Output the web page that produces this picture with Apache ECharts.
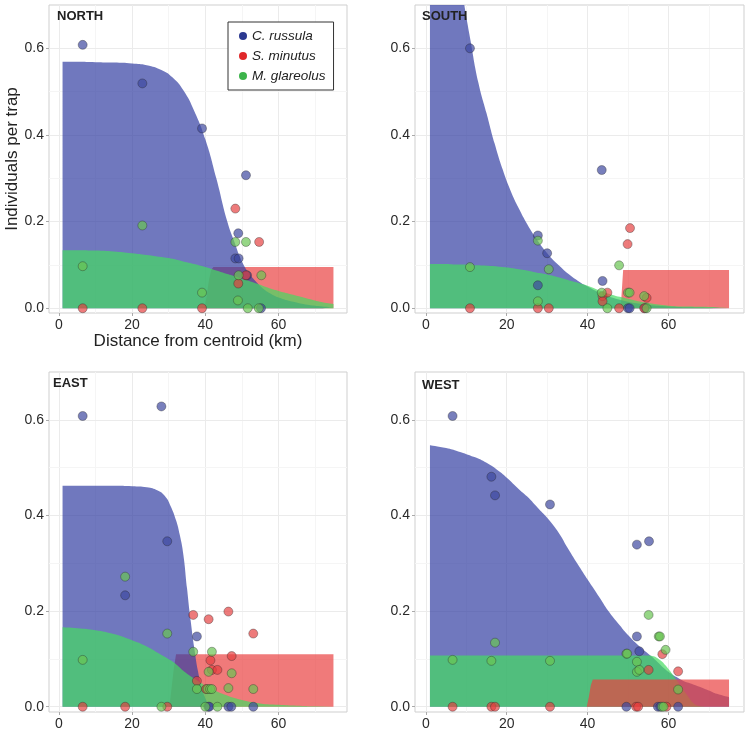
<!DOCTYPE html>
<html><head><meta charset="utf-8">
<script src="https://cdn.jsdelivr.net/npm/echarts@6/dist/echarts.min.js"></script>
<style>html,body{margin:0;padding:0;background:#fff}#c{width:750px;height:735px}</style>
</head><body><div id="c"></div>
<script>
// ---- tick labels ----
const xTicks = [0, 20, 40, 60];
const xMinor = [10, 30, 50, 70];
const yTicks = [0, 0.2, 0.4, 0.6];
const yMinor = [0.1, 0.3, 0.5];
const speciesNames = ['C. russula', 'S. minutus', 'M. glareolus'];
const panelTitles = ['NORTH', 'SOUTH', 'EAST', 'WEST'];

// ---- NORTH ----
const northX = [1,5,10,15,20,24,28,31,34,37,40,43,46,48,50,52,54,56,58,60,64,68,72,75];
const northBlue = [0.569,0.569,0.568,0.567,0.565,0.561,0.550,0.533,0.503,0.455,0.390,0.300,0.200,0.152,0.108,0.080,0.060,0.044,0.033,0.025,0.015,0.008,0.004,0.002];
const northGreen = [0.134,0.134,0.133,0.131,0.127,0.123,0.118,0.114,0.108,0.102,0.095,0.087,0.079,0.074,0.068,0.063,0.057,0.051,0.045,0.040,0.031,0.022,0.014,0.010];
const northRedX = [1,39.8,40.4,41,41.6,42.2,75];
const northRed = [0,0,0.03,0.065,0.088,0.095,0.095];
const northBluePts = [[6.5,0.608],[22.8,0.519],[39.1,0.415],[51.1,0.307],[49,0.173],[48.2,0.115],[49.1,0.115],[51.4,0.076],[55.2,0]];
const northRedPts = [[6.5,0],[22.8,0],[39.1,0],[48.2,0.230],[54.7,0.153],[49,0.057],[51.1,0.076]];
const northGreenPts = [[6.5,0.097],[22.8,0.191],[39.1,0.036],[48.2,0.153],[51.1,0.153],[49.1,0.076],[55.3,0.076],[48.9,0.018],[51.6,0],[54.6,0]];

// ---- SOUTH ----
const southX = [1,3,5,7,9,11,13,15,17,19,21,23,25,27,30,33,36,40,45,50,55,60,65,70,75];
const southBlue = [1.42,1.20,1.02,0.86,0.73,0.62,0.52,0.45,0.38,0.32,0.27,0.23,0.195,0.165,0.127,0.098,0.074,0.050,0.028,0.015,0.008,0.004,0.002,0.001,0.0005];
const southGreen = [0.102,0.102,0.102,0.101,0.101,0.100,0.099,0.098,0.097,0.095,0.093,0.090,0.087,0.083,0.078,0.071,0.063,0.052,0.034,0.022,0.012,0.006,0.004,0.003,0.002];
const southRedX = [1,48.2,48.5,48.8,75];
const southRed = [0,0,0.045,0.088,0.088];
const southBluePts = [[10.9,0.60],[27.7,0.168],[30,0.127],[27.7,0.053],[43.5,0.319],[43.7,0.063],[50,0],[50.4,0],[54.2,0]];
const southRedPts = [[10.9,0],[27.7,0],[30.4,0],[50.5,0.185],[49.9,0.148],[43.7,0.028],[43.7,0.016],[44.9,0.036],[47.8,0],[54.6,0.024],[54,0]];
const southGreenPts = [[10.9,0.095],[27.7,0.156],[30.4,0.090],[27.7,0.016],[47.8,0.099],[43.5,0.036],[50,0.036],[50.4,0.036],[54,0.028],[44.9,0],[54.6,0]];

// ---- EAST ----
const eastX = [1,5,10,15,20,24,27,29,30.5,32,33,34,35,36,37,38,39,40,41,42,45,50,55,60,65,70,75];
const eastBlue = [0.462,0.462,0.462,0.462,0.461,0.459,0.452,0.440,0.420,0.390,0.360,0.318,0.248,0.180,0.122,0.074,0.040,0.018,0.006,0.002,0,0,0,0,0,0,0];
const eastGreen = [0.166,0.164,0.160,0.152,0.139,0.126,0.113,0.104,0.097,0.089,0.082,0.075,0.069,0.064,0.059,0.054,0.049,0.044,0.040,0.036,0.026,0.014,0.007,0.004,0.002,0.001,0.001];
const eastRedX = [1,30.2,30.8,31.4,32,75];
const eastRed = [0,0,0.04,0.08,0.11,0.11];
const eastBluePts = [[6.5,0.608],[28,0.628],[29.6,0.346],[18.1,0.233],[37.7,0.147],[40.8,0],[41.1,0],[46.3,0],[47.1,0],[53.1,0]];
const eastRedPts = [[6.5,0],[18.1,0],[29.6,0],[36.7,0.192],[40.9,0.183],[46.3,0.199],[53.1,0.153],[41.4,0.097],[47.2,0.106],[41.8,0.077],[43.3,0.077],[37.7,0.054],[40.2,0.037]];
const eastGreenPts = [[6.5,0.098],[18.1,0.272],[29.6,0.153],[36.7,0.115],[41.8,0.115],[40.9,0.073],[47.2,0.070],[37.7,0.037],[40.6,0.037],[41.3,0.037],[41.8,0.037],[46.3,0.039],[53.1,0.037],[28,0],[40,0],[43.3,0]];

// ---- WEST ----
const westX = [1,5,8,12,15,18,20,23,25,28,30,33,35,38,40,43,45,48,50,53,55,56,57,58,59,60,61,62,63,64,65,66,67,68,70,72,75];
const westBlue = [0.547,0.541,0.534,0.522,0.510,0.493,0.479,0.455,0.440,0.413,0.395,0.362,0.333,0.292,0.266,0.228,0.202,0.170,0.150,0.125,0.111,0.104,0.096,0.088,0.080,0.073,0.067,0.062,0.057,0.053,0.050,0.047,0.044,0.041,0.034,0.027,0.020];
const westGreen = [0.107,0.107,0.107,0.107,0.107,0.107,0.107,0.107,0.107,0.107,0.107,0.107,0.107,0.107,0.107,0.107,0.107,0.107,0.107,0.107,0.107,0.106,0.103,0.097,0.089,0.079,0.068,0.056,0.044,0.032,0.020,0.009,0.003,0.001,0,0,0];
const westRedX = [1,39.8,40.3,40.8,41.3,75];
const westRed = [0,0,0.02,0.045,0.057,0.057];
const westBluePts = [[6.6,0.608],[16.2,0.481],[17.1,0.442],[30.7,0.423],[52.2,0.339],[55.2,0.346],[52.2,0.147],[52.8,0.116],[49.6,0],[57.4,0],[58,0],[62.4,0]];
const westRedPts = [[6.6,0],[16.2,0],[17.1,0],[30.7,0],[58.5,0.110],[55.1,0.077],[62.4,0.074],[52,0],[52.5,0],[59.5,0]];
const westGreenPts = [[6.6,0.098],[16.2,0.096],[17.1,0.134],[30.7,0.096],[55.1,0.192],[57.6,0.147],[57.9,0.147],[59.3,0.119],[49.6,0.111],[49.8,0.111],[52.2,0.094],[52.2,0.073],[52.8,0.077],[62.4,0.036],[58.4,0],[58.8,0]];

// ---- layout / style ----
const FONT = 'Liberation Sans, Arial, sans-serif';
const grids = [
  {left:49, top:5, width:298, height:308},
  {left:415, top:5, width:329, height:308},
  {left:49, top:372, width:298, height:340},
  {left:415, top:372, width:329, height:340}
];
const titlePos = [[57,10],[422,10],[53,377],[422,379]];
const areaColor = {blue:'rgb(51,62,162)', red:'rgb(234,65,65)', green:'rgb(69,220,97)'};
const areaOpacity = 0.7;
const ptColor = {blue:'rgba(62,72,160,0.88)', red:'rgba(228,62,62,0.85)', green:'rgba(105,196,82,0.88)'};
const legendColor = {blue:'#2b3990', red:'#e0282a', green:'#3cb44b'};

const panels = [
  {x:northX, blue:northBlue, green:northGreen, rx:northRedX, red:northRed, bp:northBluePts, rp:northRedPts, gp:northGreenPts, order:['red','blue','green']},
  {x:southX, blue:southBlue, green:southGreen, rx:southRedX, red:southRed, bp:southBluePts, rp:southRedPts, gp:southGreenPts, order:['red','blue','green']},
  {x:eastX, blue:eastBlue, green:eastGreen, rx:eastRedX, red:eastRed, bp:eastBluePts, rp:eastRedPts, gp:eastGreenPts, order:['red','blue','green']},
  {x:westX, blue:westBlue, green:westGreen, rx:westRedX, red:westRed, bp:westBluePts, rp:westRedPts, gp:westGreenPts, order:['blue','green','red']}
];

const zip = (xs, ys) => xs.map((v, i) => [v, ys[i]]);

const xAxes = [], yAxes = [], series = [], titles = [];
panels.forEach((p, i) => {
  const xa = {
    type:'value', gridIndex:i, min:-2.7, max:78.7,
    axisLine:{show:false, onZero:false},
    axisTick:{show:true, customValues:xTicks, length:3, lineStyle:{color:'#aaa'}},
    axisLabel:{customValues:xTicks, fontSize:14, color:'#2a2a2a', margin:5, fontFamily:FONT},
    splitLine:{show:false}
  };
  const ya = {
    type:'value', gridIndex:i, min:-0.011, max:0.7,
    axisLine:{show:false, onZero:false},
    axisTick:{show:true, customValues:yTicks, length:3, lineStyle:{color:'#aaa'}},
    axisLabel:{customValues:yTicks, fontSize:14, color:'#2a2a2a', margin:5, fontFamily:FONT, formatter:v => v.toFixed(1)},
    splitLine:{show:false}
  };
  if (i === 0) {
    xa.name = 'Distance from centroid (km)';
    xa.nameLocation = 'middle'; xa.nameGap = 18;
    xa.nameTextStyle = {fontSize:17, color:'#222', fontFamily:FONT};
    ya.name = 'Individuals per trap';
    ya.nameLocation = 'middle'; ya.nameGap = 28;
    ya.nameTextStyle = {fontSize:17, color:'#222', fontFamily:FONT};
  }
  xAxes.push(xa); yAxes.push(ya);
  titles.push({text:panelTitles[i], left:titlePos[i][0], top:titlePos[i][1], padding:0,
    textStyle:{fontSize:13, fontWeight:'bold', color:'#222', fontFamily:FONT}});

  // grid lines (underneath everything)
  const gl = [];
  xTicks.forEach(v => gl.push({xAxis:v, lineStyle:{color:'#ebebeb'}}));
  xMinor.forEach(v => gl.push({xAxis:v, lineStyle:{color:'#f5f5f5'}}));
  yTicks.forEach(v => gl.push({yAxis:v, lineStyle:{color:'#ebebeb'}}));
  yMinor.forEach(v => gl.push({yAxis:v, lineStyle:{color:'#f5f5f5'}}));
  series.push({type:'line', xAxisIndex:i, yAxisIndex:i, data:[[0,0]], symbol:'none', silent:true, z:0,
    lineStyle:{width:0, opacity:0},
    markLine:{z:0, symbol:['none','none'], silent:true, animation:false, label:{show:false},
      lineStyle:{type:'solid', width:1}, data:gl}});

  const areas = {
    blue:{data:zip(p.x, p.blue), smooth:0.5},
    green:{data:zip(p.x, p.green), smooth:0.5},
    red:{data:zip(p.rx, p.red), smooth:false}
  };
  p.order.forEach(k => {
    series.push({type:'line', xAxisIndex:i, yAxisIndex:i, data:areas[k].data, smooth:areas[k].smooth,
      symbol:'none', showSymbol:false, silent:true, z:2, clip:true,
      lineStyle:{width:0, opacity:0},
      areaStyle:{color:areaColor[k], opacity:areaOpacity, origin:0}});
  });
  [['blue', p.bp, 0], ['red', p.rp, 1], ['green', p.gp, 2]].forEach(([k, pts, si]) => {
    series.push({type:'scatter', name:speciesNames[si], xAxisIndex:i, yAxisIndex:i, data:pts,
      symbolSize:9, z:3,
      itemStyle:{color:ptColor[k], borderColor:'rgba(40,40,40,0.65)', borderWidth:0.7}});
  });
});

const chart = echarts.init(document.getElementById('c'), null, {renderer:'canvas'});
chart.setOption({
  animation:false,
  backgroundColor:'#fff',
  title:titles,
  grid:grids.map(g => Object.assign({show:true, borderColor:'#cfcfcf', borderWidth:1, backgroundColor:'#fff', containLabel:false}, g)),
  xAxis:xAxes, yAxis:yAxes,
  legend:{orient:'vertical', left:228, top:22, icon:'circle', itemWidth:8, itemHeight:8, itemGap:6,
    padding:[7,8,7,11], borderColor:'#333', borderWidth:1, backgroundColor:'#fff', selectedMode:false,
    z:10,
    textStyle:{fontSize:13.5, fontStyle:'italic', color:'#222', fontFamily:FONT},
    data:[
      {name:speciesNames[0], icon:'circle', itemStyle:{color:legendColor.blue, borderWidth:0, opacity:1}},
      {name:speciesNames[1], icon:'circle', itemStyle:{color:legendColor.red, borderWidth:0, opacity:1}},
      {name:speciesNames[2], icon:'circle', itemStyle:{color:legendColor.green, borderWidth:0, opacity:1}}
    ]},
  series:series
});
</script></body></html>
